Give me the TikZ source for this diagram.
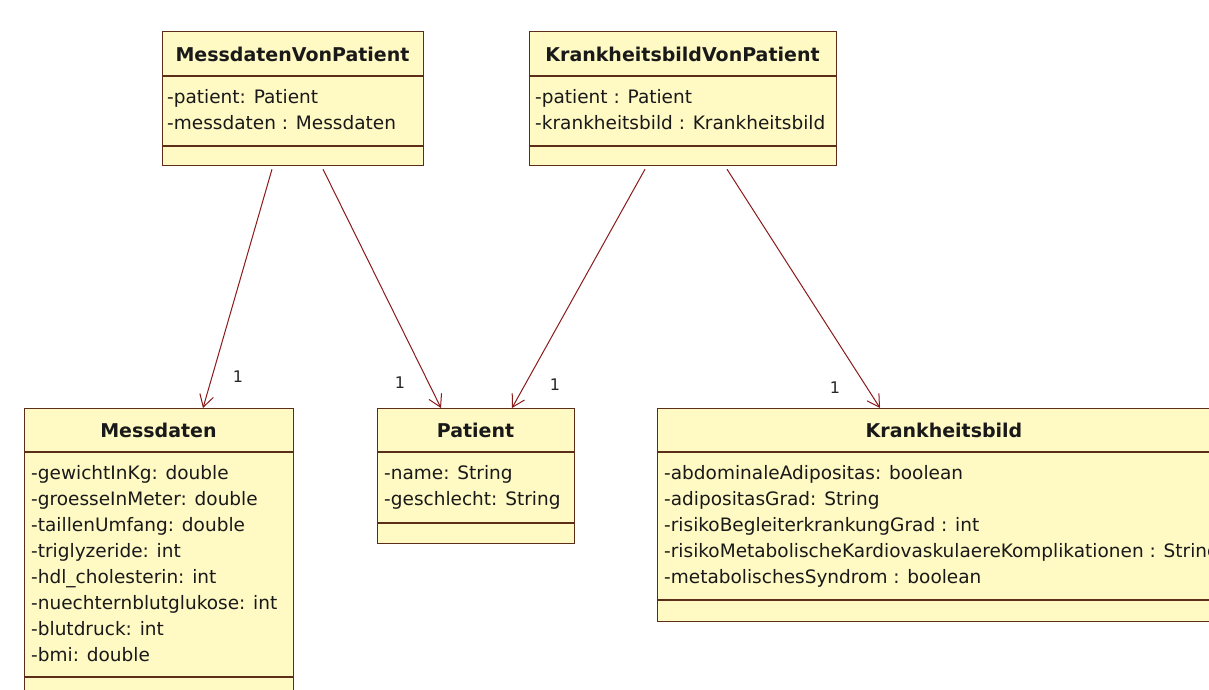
\documentclass[tikz,border=0pt]{standalone}
\usepackage{fontspec}
\setmainfont{DejaVu Sans}
\newfontfamily\headfont{DejaVu Sans}
\usetikzlibrary{arrows.meta,calc}
\definecolor{boxfill}{HTML}{FFF9C4}
\definecolor{boxline}{HTML}{5C2E1A}
\definecolor{assocline}{HTML}{8B1A1A}
\tikzset{
  classbox/.style={draw=boxline,fill=boxfill,line width=1.2pt,anchor=north west,inner sep=0pt},
  sepline/.style={draw=boxline,line width=1.2pt},
  titletext/.style={font=\headfont\bfseries\fontsize{19}{22}\selectfont,inner sep=0pt,text=black!90},
  attrtext/.style={font=\fontsize{18.5}{26}\selectfont,align=left,anchor=west,inner sep=0pt,text=black!90},
  assoc/.style={draw=assocline,line width=1pt,-{Straight Barb[length=12pt,width=14pt,line width=1pt]}},
  multlabel/.style={font=\fontsize{16}{18}\selectfont,inner sep=0pt,text=black!85}
}
\begin{document}
\begin{tikzpicture}[x=1pt,y=-1pt]
\useasboundingbox (0,0) rectangle (1209,689);
\fill[white] (0,0) rectangle (1209,689);
\clip (0,0) rectangle (1209,689);

% MessdatenVonPatient
\node[classbox,minimum width=261pt,minimum height=134pt] (mvp) at (162,31) {};
\draw[sepline] (162,76) -- (423,76);
\draw[sepline] (162,146) -- (423,146);
\node[titletext] (mvpt) at (292.5,54) {MessdatenVonPatient};
\node[attrtext] (mvpa) at (167,110) {-patient: Patient\\-messdaten : Messdaten};

% KrankheitsbildVonPatient
\node[classbox,minimum width=307pt,minimum height=134pt] (kvp) at (529,31) {};
\draw[sepline] (529,76) -- (836,76);
\draw[sepline] (529,146) -- (836,146);
\node[titletext] (kvpt) at (682.5,54) {KrankheitsbildVonPatient};
\node[attrtext] (kvpa) at (535,110) {-patient : Patient\\-krankheitsbild : Krankheitsbild};

% Messdaten
\node[classbox,minimum width=269pt,minimum height=300pt] (msd) at (24,408) {};
\draw[sepline] (24,452) -- (293,452);
\draw[sepline] (24,677) -- (293,677);
\node[titletext] (msdt) at (158.5,430) {Messdaten};
\node[attrtext] (msda) at (31,564) {-gewichtInKg: double\\-groesseInMeter: double\\-taillenUmfang: double\\-triglyzeride: int\\-hdl\_cholesterin: int\\-nuechternblutglukose: int\\-blutdruck: int\\-bmi: double};

% Patient
\node[classbox,minimum width=197pt,minimum height=135pt] (pat) at (377,408) {};
\draw[sepline] (377,452) -- (574,452);
\draw[sepline] (377,523) -- (574,523);
\node[titletext] (patt) at (475.5,430) {Patient};
\node[attrtext] (pata) at (384,487) {-name: String\\-geschlecht: String};

% Krankheitsbild
\node[classbox,minimum width=574pt,minimum height=213pt] (kb) at (657,408) {};
\draw[sepline] (657,452) -- (1231,452);
\draw[sepline] (657,600) -- (1231,600);
\node[titletext] (kbt) at (944,430) {Krankheitsbild};
\node[attrtext] (kba) at (664,526) {-abdominaleAdipositas: boolean\\-adipositasGrad: String\\-risikoBegleiterkrankungGrad : int\\-risikoMetabolischeKardiovaskulaereKomplikationen : String\\-metabolischesSyndrom : boolean};

% associations
\draw[assoc] ($(mvp.south west)+(110,3)$) -- ($(msd.north west)+(179,0)$);
\draw[assoc] ($(mvp.south west)+(161,3)$) -- ($(pat.north west)+(64,0)$);
\draw[assoc] ($(kvp.south west)+(116,3)$) -- ($(pat.north west)+(135,0)$);
\draw[assoc] ($(kvp.south west)+(198,3)$) -- ($(kb.north west)+(223,0)$);

\node[multlabel] (m1) at (238,377) {1};
\node[multlabel] (m2) at (400,383) {1};
\node[multlabel] (m3) at (555,385) {1};
\node[multlabel] (m4) at (835,388) {1};
\end{tikzpicture}
\end{document}
